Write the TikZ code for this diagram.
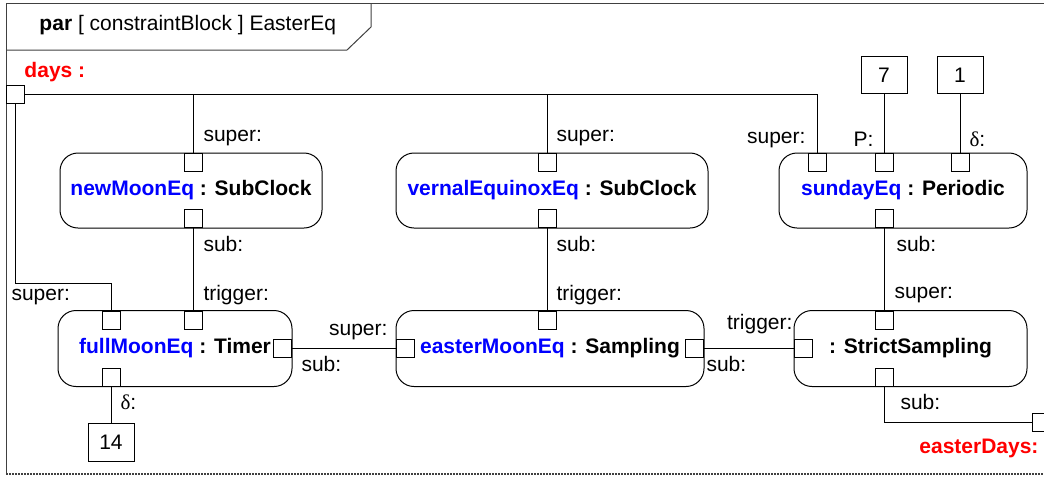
\documentclass[tikz,border=0pt]{standalone}
\usepackage{fontspec}
\setmainfont{Liberation Sans}
\newfontfamily\greekfont{Liberation Serif}
\definecolor{parblue}{RGB}{0,0,255}
\definecolor{parred}{RGB}{255,0,0}
\usetikzlibrary{positioning}
\newcommand{\inst}[1]{\textcolor{parblue}{#1}}
\newcommand{\dlt}{{\greekfont δ}:}

\begin{document}
\begin{tikzpicture}[x=0.5pt, y=-0.5pt, line width=0.5pt,
  every node/.style={font=\fontsize{10.5}{12.6}\selectfont},
  block/.style={draw, rounded corners=9pt, inner sep=0pt, font=\fontsize{10.5}{12.6}\selectfont\bfseries},
  port/.style={draw, fill=white, minimum size=9pt, inner sep=0pt},
  valbox/.style={draw, minimum width=23pt, minimum height=18.5pt, inner sep=0pt},
  lbl/.style={inner sep=0pt},
  flow/.style={text=parred, inner sep=0pt, font=\fontsize{10.5}{12.6}\selectfont\bfseries}]
  \useasboundingbox (0,0) rectangle (1044,477);

  % frame and title
  \draw [black!75] (6,474) -- (6,3) -- (1050,3);
  \draw [black!75] (6,50) -- (347,50) -- (371,27) -- (371,3);
  \draw [black!75, line width=0.8pt, dash pattern=on 1pt off 0.5pt] (6,474) -- (1050,474);
  \node [anchor=west, inner sep=0pt] (title) at (39,25) {\textbf{par} [ constraintBlock ] EasterEq};

  % constraint blocks
  \node [block, minimum width=131pt, minimum height=37.5pt] (newmoon) at (191,190.5) {\inst{newMoonEq} : SubClock};
  \node [block, minimum width=156pt, minimum height=37.5pt] (vernal) at (552,190.5) {\inst{vernalEquinoxEq} : SubClock};
  \node [block, minimum width=124pt, minimum height=37.5pt] (sunday) at (903,190.5) {\inst{sundayEq} : Periodic};
  \node [block, minimum width=117pt, minimum height=38pt] (fullmoon) at (175,348.5) {\inst{fullMoonEq} : Timer};
  \node [block, minimum width=154pt, minimum height=38pt] (eastermoon) at (550,348.5) {\inst{easterMoonEq} : Sampling};
  \node [block, minimum width=116.5pt, minimum height=38pt] (strict) at (910.5,348.5) {: StrictSampling};

  % ports
  \node [port] (days) at (15,94.5) {};
  \node [port, anchor=west] (easterdays) at (1032,422) {};
  \node [port, anchor=north] (nmsuper) at (193,153) {};
  \node [port, anchor=south] (nmsub) at (193,228) {};
  \node [port, anchor=north] (vesuper) at (547,153) {};
  \node [port, anchor=south] (vesub) at (547,228) {};
  \node [port, anchor=north] (sdsuper) at (817,153) {};
  \node [port, anchor=north] (sdp) at (884,153) {};
  \node [port, anchor=north] (sddelta) at (960,153) {};
  \node [port, anchor=south] (sdsub) at (884,228) {};
  \node [port, anchor=north] (fmsuper) at (111,310.5) {};
  \node [port, anchor=north] (fmtrig) at (193,310.5) {};
  \node [port, anchor=south] (fmdelta) at (111,386.5) {};
  \node [port, anchor=east] (fmsub) at (292,348) {};
  \node [port, anchor=north] (emtrig) at (547,310.5) {};
  \node [port, anchor=west] (emsuper) at (396,348) {};
  \node [port, anchor=east] (emsub) at (704,348) {};
  \node [port, anchor=north] (sssuper) at (884,310.5) {};
  \node [port, anchor=west] (sstrig) at (794,348) {};
  \node [port, anchor=south] (sssub) at (884,386.5) {};

  % constant values
  \node [valbox, above=29.5pt of sdp] (v7) {7};
  \node [valbox, above=29.5pt of sddelta] (v1) {1};
  \node [valbox, below=18pt of fmdelta, minimum height=19pt] (v14) {14};

  % bindings
  \coordinate (daysbend) at (15,283);
  \draw (days.east) -| (sdsuper.north);
  \draw (nmsuper.north) -- (nmsuper.north |- days.east);
  \draw (vesuper.north) -- (vesuper.north |- days.east);
  \draw (days.south) -- (daysbend) -| (fmsuper.north);
  \draw (nmsub.south) -- (fmtrig.north);
  \draw (vesub.south) -- (emtrig.north);
  \draw (sdsub.south) -- (sssuper.north);
  \draw (fmsub.east) -- (emsuper.west);
  \draw (emsub.east) -- (sstrig.west);
  \draw (sssub.south) |- (easterdays.west);
  \draw (fmdelta.south) -- (v14.north);
  \draw (v7.south) -- (sdp.north);
  \draw (v1.south) -- (sddelta.north);

  % parameter labels
  \node [flow, anchor=west] (dayslbl) at (24,72) {days :};
  \node [flow, anchor=east] (easterdayslbl) at (1039,448) {easterDays:};
  \node [lbl, anchor=west] at (203,138) {super:};
  \node [lbl, anchor=west] at (556,138) {super:};
  \node [lbl, anchor=east] at (806,140) {super:};
  \node [lbl, anchor=east] at (874,139) {P:};
  \node [lbl, anchor=west] at (969,139) {\dlt};
  \node [lbl, anchor=west] at (203,244) {sub:};
  \node [lbl, anchor=west] at (556,244) {sub:};
  \node [lbl, anchor=west] at (896,244) {sub:};
  \node [lbl, anchor=west] at (11,297) {super:};
  \node [lbl, anchor=west] at (203,295) {trigger:};
  \node [lbl, anchor=west] at (556,295) {trigger:};
  \node [lbl, anchor=west] at (894,295) {super:};
  \node [lbl, anchor=east] at (388,332) {super:};
  \node [lbl, anchor=east] at (793,324) {trigger:};
  \node [lbl, anchor=west] at (301,364) {sub:};
  \node [lbl, anchor=west] at (706,364) {sub:};
  \node [lbl, anchor=west] at (120,402) {\dlt};
  \node [lbl, anchor=west] at (900,402) {sub:};

\end{tikzpicture}
\end{document}
